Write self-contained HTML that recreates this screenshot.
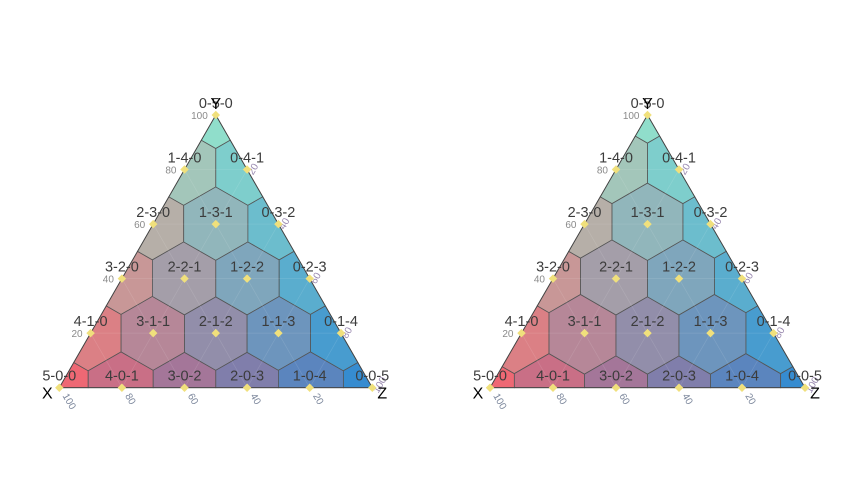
<!DOCTYPE html>
<html><head><meta charset="utf-8"><style>
html,body{margin:0;padding:0;background:#fff}
svg{display:block;font-family:"Liberation Sans",sans-serif}
</style></head><body>
<svg id="chart" width="864" height="480"></svg>
<script>
const compositions = [
 [5,0,0],[4,1,0],[3,2,0],[2,3,0],[1,4,0],[0,5,0],
 [4,0,1],[3,1,1],[2,2,1],[1,3,1],[0,4,1],
 [3,0,2],[2,1,2],[1,2,2],[0,3,2],
 [2,0,3],[1,1,3],[0,2,3],
 [1,0,4],[0,1,4],
 [0,0,5]];
const tickValues = [100,80,60,40,20];
const panelWeights = [[-300,0,100],[-900,0,500]]; // power weights by #zeros: [2 zeros,1 zero,0 zeros]
const panels = [{x0:59.3,x1:372.3,top:115,base:387.7},{x0:490,x1:805,top:115,base:387.7}];
const cX=[238,104,116], cY=[144,222,203], cZ=[54,140,208];
const NS='http://www.w3.org/2000/svg';
const svg=document.getElementById('chart');
function mk(t,a,p){const e=document.createElementNS(NS,t);for(const k in a)e.setAttribute(k,a[k]);(p||svg).appendChild(e);return e;}
function clip(poly,a,b,c){
 const out=[];for(let i=0;i<poly.length;i++){const P=poly[i],Q=poly[(i+1)%poly.length];
 const fp=a*P[0]+b*P[1]-c,fq=a*Q[0]+b*Q[1]-c;
 if(fp<=0)out.push(P);
 if((fp<0&&fq>0)||(fp>0&&fq<0)){const t=fp/(fp-fq);out.push([P[0]+t*(Q[0]-P[0]),P[1]+t*(Q[1]-P[1])]);}}
 return out;}
panels.forEach((pn,pi)=>{
 const g=mk('g',{});
 
 
 const W=pn.x1-pn.x0,H=pn.base-pn.top;
 const toXY=(a,b,c)=>{const s=a+b+c;return [pn.x0+(c+b/2)/s*W,pn.base-b/s*H];};
 const tri=[[pn.x0,pn.base],[pn.x1,pn.base],[(pn.x0+pn.x1)/2,pn.top]];
 const pts=compositions.map(k=>toXY(...k));
 const wts=compositions.map(k=>{const z=k.filter(v=>v===0).length;return panelWeights[pi][2-z];});
 pts.forEach((p,i)=>{
  let poly=tri.slice();
  pts.forEach((q,j)=>{if(i===j)return;
   const a=2*(q[0]-p[0]),b=2*(q[1]-p[1]);
   const c=(q[0]*q[0]+q[1]*q[1])-(p[0]*p[0]+p[1]*p[1])-wts[j]+wts[i];
   poly=clip(poly,a,b,c);});
  const k=compositions[i];
  const col=[0,1,2].map(ch=>Math.round((k[0]*cX[ch]+k[1]*cY[ch]+k[2]*cZ[ch])/5));
  const el=mk('polygon',{points:poly.map(v=>v.join(',')).join(' '),fill:`rgb(${col})`,stroke:'#555','stroke-width':0.8},g);
  
  
 });
 [0.2,0.4,0.6,0.8].forEach(f=>{
  [[toXY(f,1-f,0),toXY(f,0,1-f)],[toXY(0,f,1-f),toXY(1-f,f,0)],[toXY(1-f,0,f),toXY(0,1-f,f)]].forEach(s=>{
   const l=mk('line',{x1:s[0][0],y1:s[0][1],x2:s[1][0],y2:s[1][1],stroke:'rgba(255,255,255,0.12)','stroke-width':0.7},g);
   
   
  });});
 const border=mk('polygon',{points:tri.map(v=>v.join(',')).join(' '),fill:'none',stroke:'#444','stroke-width':0.9},g);
 
 
 tickValues.forEach(v=>{
  const f=v/100;
  const py=toXY(1-f,f,0);
  const t1=mk('text',{x:py[0]-8,y:py[1]+4,'font-size':10,fill:'#8a8a8a','text-anchor':'end'},g);t1.textContent=v;
  
  
  const px=toXY(f,0,1-f);
  const t2=mk('text',{x:0,y:0,'font-size':10,fill:'#7c879c',transform:`translate(${px[0]+3},${px[1]+8}) rotate(60)`},g);t2.textContent=v;
  
  
  const pz=toXY(0,1-f,f);
  const t3=mk('text',{x:0,y:0,'font-size':10,fill:'#9a8ab0',transform:`translate(${pz[0]+6},${pz[1]+6}) rotate(-60)`},g);t3.textContent=v;
  
  
 });
 pts.forEach((p,i)=>{
  const d=mk('rect',{x:p[0]-3,y:p[1]-3,width:6,height:6,fill:'#f0e07c',transform:`rotate(45 ${p[0]} ${p[1]})`},g);
  
  
  const t=mk('text',{x:p[0],y:p[1]-7,'font-size':14.5,fill:'#3c3c3c','text-anchor':'middle'},g);
  t.textContent=compositions[i].join('-');
  
  
 });
 const labs=[['X',pn.x0-12,pn.base+11],['Z',pn.x1+10,pn.base+11],['Y',(pn.x0+pn.x1)/2,pn.top-6]];
 labs.forEach(l=>{const t=mk('text',{x:l[1],y:l[2],'font-size':16,fill:'#000','text-anchor':'middle'},g);t.textContent=l[0];
  
  });
});
</script>
</body></html>
